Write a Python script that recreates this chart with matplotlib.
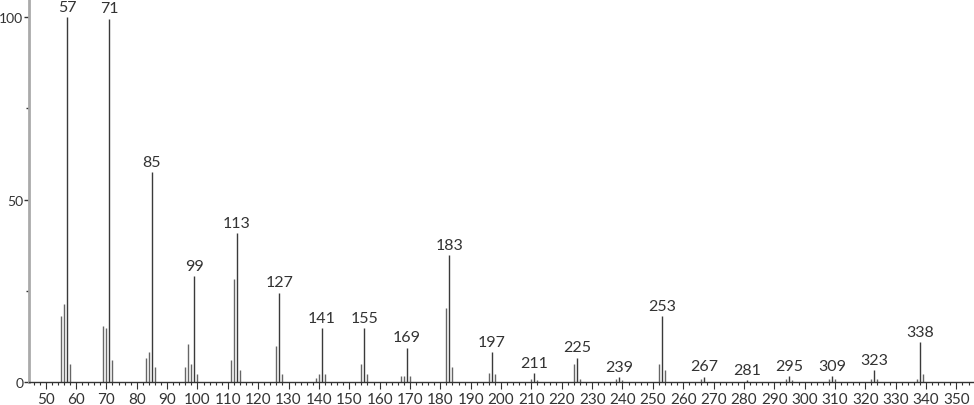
import matplotlib
matplotlib.use("Agg")
import matplotlib.pyplot as plt
from matplotlib.ticker import MultipleLocator, FixedLocator

mz = [55, 56, 57, 58, 69, 70, 71, 72, 83, 84, 85, 86,
      96, 97, 98, 99, 100, 111, 112, 113, 114,
      126, 127, 128, 139, 140, 141, 142, 154, 155, 156,
      167, 168, 169, 170, 182, 183, 184, 196, 197, 198,
      210, 211, 212, 224, 225, 226, 238, 239, 240,
      252, 253, 254, 266, 267, 281, 294, 295, 296,
      308, 309, 310, 322, 323, 324, 337, 338, 339]
intensity = [18.1, 21.3, 100.0, 4.8, 15.3, 14.7, 99.6, 5.9, 6.7, 8.2, 57.5, 4.1,
             4.1, 10.3, 4.8, 29.0, 2.3, 5.9, 28.3, 40.9, 3.3,
             9.8, 24.5, 2.3, 1.2, 2.3, 14.7, 2.3, 4.8, 14.7, 2.3,
             1.6, 1.6, 9.4, 1.6, 20.4, 34.8, 4.1, 2.6, 8.1, 2.3,
             0.7, 2.4, 0.5, 5.0, 6.7, 0.7, 0.7, 1.4, 0.5,
             5.0, 18.1, 3.2, 0.8, 1.5, 0.5, 0.8, 1.6, 0.5,
             0.8, 1.6, 0.8, 0.8, 3.2, 0.8, 0.7, 10.9, 2.3]
labeled = [57, 71, 85, 99, 113, 127, 141, 155, 169, 183, 197, 211,
           225, 239, 253, 267, 281, 295, 309, 323, 338]

plt.rcParams['font.family'] = ['Lato', 'DejaVu Sans']

fig = plt.figure(figsize=(9.74, 4.06), dpi=100)
ax = fig.add_axes([29/974, 23/406, 1 - 29/974, 383/406])

lab_set = set(labeled)
xs_l = [m for m in mz if m in lab_set]
ys_l = [v for m, v in zip(mz, intensity) if m in lab_set]
xs_o = [m for m in mz if m not in lab_set]
ys_o = [v for m, v in zip(mz, intensity) if m not in lab_set]
ax.vlines(xs_o, 0, ys_o, color='#666666', linewidth=1.0)
ax.vlines(xs_l, 0, ys_l, color='#3a3a3a', linewidth=1.0)

for m, v in zip(xs_l, ys_l):
    ax.text(m, v + 0.9, str(m), ha='center', va='bottom', fontsize=11.5,
            color='#333333')

ax.set_xlim(44.5, 355.8)
ax.set_ylim(0, 105)

ax.set_xticks(range(50, 351, 10))
ax.xaxis.set_minor_locator(MultipleLocator(2))
ax.yaxis.set_major_locator(FixedLocator([0, 50, 100]))
ax.yaxis.set_minor_locator(FixedLocator([25, 75]))

ax.tick_params(axis='x', which='major', length=5, width=0.8, color='#333333',
               labelsize=11, pad=2, labelcolor='#333333')
ax.tick_params(axis='x', which='minor', length=2.5, width=0.8, color='#333333')
ax.tick_params(axis='y', which='major', length=3.5, width=1, color='#333333',
               labelsize=10, pad=0.5, labelcolor='#333333')
ax.tick_params(axis='y', which='minor', length=2, width=1, color='#333333')

for s in ['top', 'right']:
    ax.spines[s].set_visible(False)
ax.spines['left'].set_color('#aaaaaa')
ax.spines['left'].set_linewidth(2)
ax.spines['bottom'].set_color('#333333')
ax.spines['bottom'].set_linewidth(1)

fig.savefig('out.png', dpi=100)
